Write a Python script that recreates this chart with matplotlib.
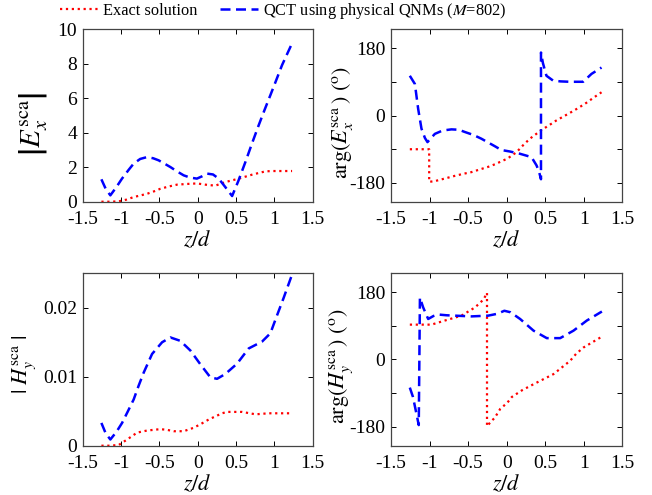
"""Scattered field |E_x|, |H_y| and their phases vs z/d: exact solution vs QCT."""

import matplotlib

matplotlib.use("Agg")
import matplotlib.pyplot as plt
from matplotlib.lines import Line2D


# |E_x^sca|
EX_QCT_Z = [-1.256, -1.20, -1.139, -1.06, -0.987, -0.90, -0.835, -0.75, -0.66, -0.58,
            -0.509, -0.43, -0.356, -0.27, -0.183, -0.10, -0.01, 0.06, 0.123, 0.20,
            0.274, 0.36, 0.449, 0.53, 0.622, 0.71, 0.796, 0.87, 0.948, 1.02, 1.10,
            1.17, 1.231]
EX_QCT = [1.30, 0.75, 0.37, 0.85, 1.34, 1.85, 2.21, 2.48, 2.59, 2.52, 2.40, 2.20, 2.01,
          1.76, 1.53, 1.40, 1.34, 1.48, 1.63, 1.58, 1.34, 0.85, 0.33, 1.20, 2.30, 3.40,
          4.44, 5.30, 6.18, 7.00, 7.92, 8.60, 9.19]
EX_EXACT_Z = [-1.256, -1.15, -1.03, -0.93, -0.835, -0.75, -0.66, -0.57, -0.487, -0.38,
              -0.269, -0.14, -0.008, 0.10, 0.23, 0.36, 0.45, 0.535, 0.62, 0.71, 0.80,
              0.883, 0.97, 1.056, 1.14, 1.231]
EX_EXACT = [0.0, 0.0, 0.02, 0.12, 0.27, 0.36, 0.46, 0.60, 0.75, 0.88, 0.99, 1.03, 1.06,
            0.99, 0.93, 1.14, 1.24, 1.34, 1.45, 1.57, 1.67, 1.76, 1.78, 1.78, 1.78, 1.78]

# arg(E_x^sca) in degrees
EX_PH_QCT_Z = [-1.256, -1.19, -1.148, -1.105, -1.06, -1.027, -0.98, -0.931, -0.83, -0.716,
               -0.62, -0.542, -0.43, -0.327, -0.24, -0.153, -0.07, 0.041, 0.171, 0.322,
               0.387, 0.42, 0.445, 0.445, 0.47, 0.516, 0.603, 0.70, 0.82, 0.992, 1.10, 1.23]
EX_PH_QCT = [106, 84, 18, -35, -60, -71, -60, -49, -40, -37, -38, -44, -52, -62, -72, -82,
             -92, -96, -102, -111, -133, -150, -170, 168, 140, 106, 93, 91, 90, 90, 111, 128]
EX_PH_EXACT_Z = [-1.256, -1.005, -1.005, -0.93, -0.80, -0.672, -0.55, -0.456, -0.35, -0.24,
                 -0.15, -0.067, 0.01, 0.127, 0.21, 0.30, 0.443, 0.55, 0.646, 0.82, 0.92,
                 1.035, 1.13, 1.23]
EX_PH_EXACT = [-90, -90, -177, -175, -168, -161, -155, -151, -144, -137, -130, -122, -115,
               -98, -80, -62, -40, -26, -13, 7, 19, 34, 48, 62]

# |H_y^sca|
HY_QCT_Z = [-1.256, -1.20, -1.139, -1.06, -0.986, -0.91, -0.835, -0.77, -0.704, -0.595,
            -0.464, -0.356, -0.226, -0.095, 0.035, 0.166, 0.253, 0.361, 0.514, 0.665,
            0.84, 0.948, 1.035, 1.12, 1.23]
HY_QCT = [0.0033, 0.0018, 0.0009, 0.0020, 0.0033, 0.0050, 0.0067, 0.0087, 0.0106, 0.0133,
          0.0150, 0.0157, 0.0152, 0.0138, 0.0118, 0.0099, 0.0097, 0.0104, 0.0119, 0.0141,
          0.0151, 0.0163, 0.0189, 0.0214, 0.0248]
HY_EXACT_Z = [-1.256, -1.15, -1.03, -0.92, -0.79, -0.66, -0.487, -0.40, -0.313, -0.183,
              -0.052, 0.05, 0.144, 0.318, 0.383, 0.579, 0.68, 0.753, 0.926, 1.05, 1.231]
HY_EXACT = [0.0, 0.0, 0.0001, 0.0009, 0.0019, 0.0022, 0.0024, 0.0023, 0.0021, 0.0021,
            0.0026, 0.0032, 0.0038, 0.0047, 0.0049, 0.0049, 0.0047, 0.00455, 0.0047,
            0.0047, 0.0047]

# arg(H_y^sca) in degrees
HY_PH_QCT_Z = [-1.256, -1.215, -1.14, -1.125, -1.083, -1.018, -0.95, -0.888, -0.78, -0.672,
               -0.456, -0.24, -0.12, -0.03, 0.05, 0.175, 0.348, 0.52, 0.694, 0.867, 1.04,
               1.235]
HY_PH_QCT = [-75, -100, -175, 165, 139, 108, 116, 120, 118, 117, 115, 117, 122, 130, 126,
             108, 77, 57, 57, 77, 104, 128]
HY_PH_EXACT_Z = [-1.256, -1.10, -0.975, -0.80, -0.586, -0.41, -0.30, -0.255, -0.255, -0.20,
                 -0.153, -0.084, 0.01, 0.067, 0.20, 0.348, 0.607, 0.823, 0.90, 0.996, 1.235]
HY_PH_EXACT = [93, 93, 93, 104, 117, 139, 160, 178, -178, -165, -155, -132, -115, -100,
               -82, -66, -39, -3.5, 15, 32, 61]

X_TICKS = [-1.5, -1, -0.5, 0, 0.5, 1, 1.5]
X_TICK_LABELS = ["-1.5", "-1", "-0.5", "0", "0.5", "1", "1.5"]
PHASE_TICKS = [-180, -90, 0, 90, 180]
PHASE_TICK_LABELS = ["-180", "", "0", "", "180"]

RED = "#ff0000"
BLUE = "#0000ff"
DASH = (0, (4, 2.2))


def draw(ax, z_exact, exact, z_qct, qct):
    ax.plot(z_exact, exact, color=RED, linestyle=":", linewidth=1.6)
    ax.plot(z_qct, qct, color=BLUE, linestyle=DASH, linewidth=1.8)
    ax.set_xlim(-1.5, 1.5)
    ax.set_xticks(X_TICKS)
    ax.set_xticklabels(X_TICK_LABELS)
    ax.tick_params(direction="in", top=True, right=True, length=3.5, width=0.7,
                   labelsize=14)
    ax.tick_params(axis="x", pad=7)
    ax.tick_params(axis="y", pad=4)
    for spine in ax.spines.values():
        spine.set_color("#444444")
        spine.set_linewidth(0.9)
    ax.set_xlabel(r"$z/d$", fontsize=16, labelpad=1)


def main() -> None:
    plt.rcParams["font.family"] = ["Liberation Serif", "DejaVu Serif"]
    plt.rcParams["mathtext.fontset"] = "stix"
    plt.rcParams["axes.unicode_minus"] = False

    fig = plt.figure(figsize=(6.52, 4.95), dpi=100)
    ax_ex = fig.add_axes([0.1268, 0.5925, 0.3528, 0.3483])
    ax_exp = fig.add_axes([0.5997, 0.5925, 0.3548, 0.3483])
    ax_hy = fig.add_axes([0.1268, 0.0996, 0.3528, 0.3483])
    ax_hyp = fig.add_axes([0.5997, 0.0996, 0.3548, 0.3483])

    draw(ax_ex, EX_EXACT_Z, EX_EXACT, EX_QCT_Z, EX_QCT)
    ax_ex.set_ylim(0, 10)
    ax_ex.set_yticks([0, 2, 4, 6, 8, 10])
    ax_ex.set_ylabel(r"$\left|E_x^{\rm sca}\right|$", fontsize=21)
    ax_ex.yaxis.set_label_coords(-0.14, 0.45)

    draw(ax_exp, EX_PH_EXACT_Z, EX_PH_EXACT, EX_PH_QCT_Z, EX_PH_QCT)
    ax_exp.set_ylim(-230, 230)
    ax_exp.set_yticks(PHASE_TICKS)
    ax_exp.set_yticklabels(PHASE_TICK_LABELS)
    ax_exp.set_ylabel(r"$\mathrm{arg}(E_x^{\rm sca}\,)\ (^{\rm o})$", fontsize=16)
    ax_exp.yaxis.set_label_coords(-0.155, 0.46)

    draw(ax_hy, HY_EXACT_Z, HY_EXACT, HY_QCT_Z, HY_QCT)
    ax_hy.set_ylim(0, 0.025)
    ax_hy.set_yticks([0, 0.01, 0.02])
    ax_hy.set_yticklabels(["0", "0.01", "0.02"])
    ax_hy.set_ylabel(r"$|\ H_y^{\rm sca}\ |$", fontsize=16)
    ax_hy.yaxis.set_label_coords(-0.195, 0.47)

    draw(ax_hyp, HY_PH_EXACT_Z, HY_PH_EXACT, HY_PH_QCT_Z, HY_PH_QCT)
    ax_hyp.set_ylim(-230, 230)
    ax_hyp.set_yticks(PHASE_TICKS)
    ax_hyp.set_yticklabels(PHASE_TICK_LABELS)
    ax_hyp.set_ylabel(r"$\mathrm{arg}(H_y^{\rm sca}\,)\ (^{\rm o})$", fontsize=16)
    ax_hyp.yaxis.set_label_coords(-0.155, 0.46)

    handles = [
        Line2D([], [], color=RED, linestyle=":", linewidth=1.6),
        Line2D([], [], color=BLUE, linestyle=DASH, linewidth=1.8),
    ]
    labels = ["Exact solution", r"QCT using physical QNMs ($M$=802)"]
    fig.legend(handles, labels, loc="center", bbox_to_anchor=(283 / 652, 1 - 11 / 495),
               ncol=2, frameon=False, fontsize=11.8, handlelength=2.3,
               handletextpad=0.3, columnspacing=1.4)

    fig.savefig("out.png", dpi=100)
    plt.close(fig)


if __name__ == "__main__":
    main()
